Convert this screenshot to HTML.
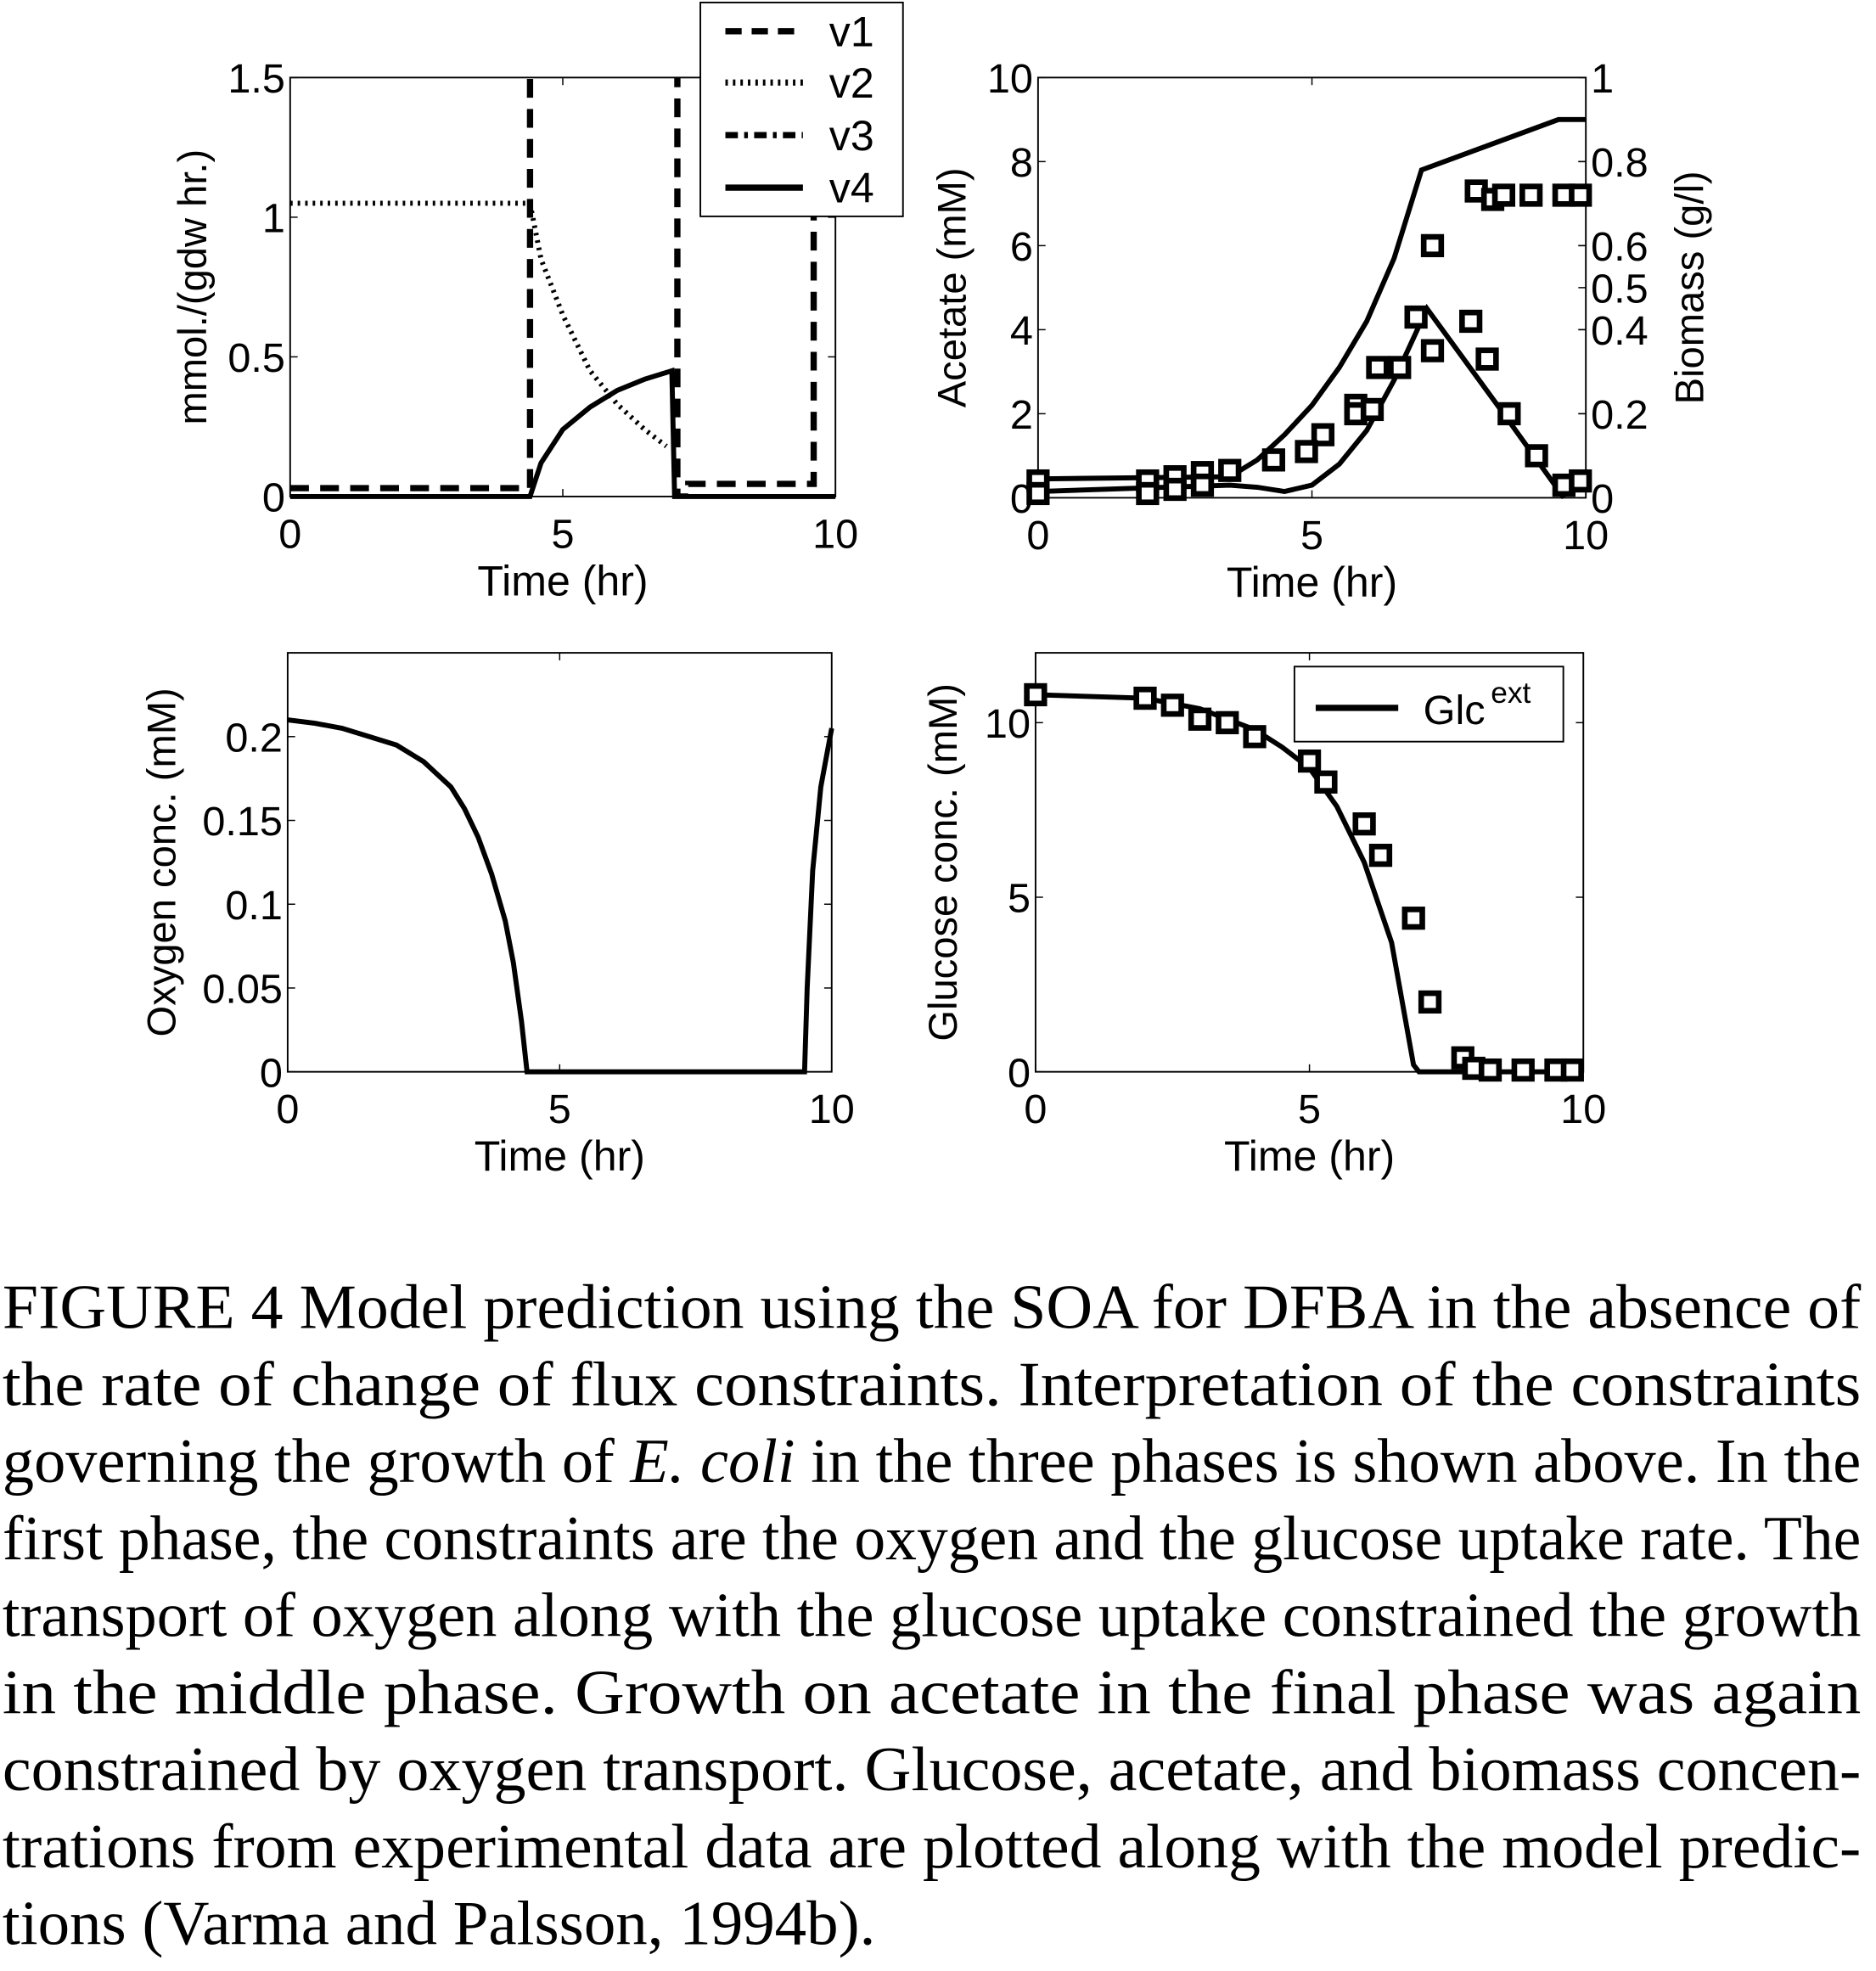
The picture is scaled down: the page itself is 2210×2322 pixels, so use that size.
<!DOCTYPE html>
<html><head><meta charset="utf-8"><style>
html,body{margin:0;padding:0;background:#fff;}
svg{display:block;}
text{font-family:"Liberation Sans",sans-serif;fill:#000;}
text.cap{font-family:"Liberation Serif",serif;font-size:50px;}
</style></head><body>
<svg id="fig" width="2210" height="2322" viewBox="0 0 1500 1576" xmlns="http://www.w3.org/2000/svg">
<defs><clipPath id="clip1"><rect x="232" y="62" width="436" height="335"/></clipPath></defs>
<g id="p1"></g>
<g id="p2"></g>
<g id="p3"></g>
<g id="p4"></g>
<g id="caption"></g>
</svg>
<script>
// ---- Panel 1 data: fluxes ----
const v1T=[0,4.4,4.4,7.1,7.1,7.3,7.3,9.6,9.6];
const v1V=[0.03,0.03,1.7,1.7,0,0,0.045,0.045,1.7];
const v2T=[0,4.4,4.45,4.6,5,5.5,6,6.5,6.9];
const v2V=[1.05,1.05,1.0,0.85,0.65,0.45,0.33,0.24,0.18];
const v4T=[0,4.4,4.6,5,5.5,6,6.5,7.0,7.05,10];
const v4V=[0,0,0.12,0.24,0.32,0.38,0.42,0.45,0,0];
const p1YTicks=[0,0.5,1,1.5];
const p1YLabels=["0","0.5","1","1.5"];
const xTicks=[0,5,10];
const xLabels=["0","5","10"];
// ---- Panel 2 data ----
const bioT=[0,3.5,4,4.5,5,5.5,6,6.5,7,9.5,10];
const bioV=[0.045,0.05,0.09,0.15,0.22,0.31,0.42,0.57,0.78,0.9,0.9];
const aceT=[0,3.5,4,4.5,5,5.5,6,6.5,7.1,8.5,9.6];
const aceV=[0.15,0.3,0.25,0.15,0.3,0.8,1.6,2.8,4.5,2,0];
const bioMT=[0,2,2.5,3,3.5,4.3,5.2,5.8,6.2,7.2,8,8.3,8.5,9,9.6,9.9];
const bioMV=[0.04,0.04,0.05,0.06,0.065,0.09,0.15,0.22,0.31,0.6,0.73,0.71,0.72,0.72,0.72,0.72];
const aceMT=[0,2,2.5,3,4.9,5.8,6.1,6.6,6.9,7.2,7.9,8.2,8.6,9.1,9.6,9.9];
const aceMV=[0.1,0.1,0.2,0.3,1.1,2,2.1,3.1,4.3,3.5,4.2,3.3,2,1,0.3,0.4];
const p2YTicks=[0,2,4,6,8,10];
const p2YLabels=["0","2","4","6","8","10"];
const p2RTicks=[0,0.2,0.4,0.5,0.6,0.8,1];
const p2RLabels=["0","0.2","0.4","0.5","0.6","0.8","1"];
// ---- Panel 3 data ----
const oxT=[0,0.5,1,1.5,2,2.5,3,3.25,3.5,3.75,4,4.15,4.3,4.4,9.5,9.55,9.65,9.8,10];
const oxV=[0.21,0.208,0.205,0.2,0.195,0.185,0.17,0.157,0.14,0.118,0.09,0.065,0.03,0,0,0.05,0.12,0.17,0.205];
const p3YTicks=[0,0.05,0.1,0.15,0.2];
const p3YLabels=["0","0.05","0.1","0.15","0.2"];
// ---- Panel 4 data ----
const glcT=[0,2,3,4,4.5,5,5.5,6,6.5,6.9,7,10];
const glcV=[10.8,10.7,10.4,9.8,9.3,8.7,7.6,6,3.7,0.2,0,0];
const glcMT=[0,2,2.5,3,3.5,4,5,5.3,6,6.3,6.9,7.2,7.8,8,8.3,8.9,9.5,9.8];
const glcMV=[10.8,10.7,10.5,10.1,10,9.6,8.9,8.3,7.1,6.2,4.4,2,0.4,0.1,0.05,0.05,0.05,0.05];
const p4YTicks=[0,5,10];
const p4YLabels=["0","5","10"];

const NS="http://www.w3.org/2000/svg";
function mk(parent,tag,attrs,txt){const e=document.createElementNS(NS,tag);for(const k in attrs)e.setAttribute(k,attrs[k]);if(txt!==undefined)e.textContent=txt;parent.appendChild(e);return e;}
function lin(d0,d1,r0,r1){return v=>r0+(v-d0)/(d1-d0)*(r1-r0);}
function pathD(T,V,sx,sy){return T.map((t,i)=>(i?'L':'M')+sx(t).toFixed(1)+','+sy(V[i]).toFixed(1)).join(' ');}

function axes(g,x0,x1,y0,y1,sx,sy,yT,yL,yLabel,yLabelX){
  const box=mk(g,'rect',{x:x0,y:y0,width:x1-x0,height:y1-y0,fill:'none',stroke:'#000','stroke-width':1.3});
  
  
  yT.forEach((v,i)=>{
    const y=sy(v);
    const tk=mk(g,'line',{x1:x0,x2:x0+6,y1:y,y2:y,stroke:'#000','stroke-width':1});
    
    
    mk(g,'line',{x1:x1,x2:x1-6,y1:y,y2:y,stroke:'#000','stroke-width':1});
    const t=mk(g,'text',{x:x0-4,y:y+12,'text-anchor':'end','font-size':33},yL[i]);
    
    
  });
  xTicks.forEach((v,i)=>{
    const x=sx(v);
    mk(g,'line',{x1:x,x2:x,y1:y1,y2:y1-6,stroke:'#000','stroke-width':1});
    mk(g,'line',{x1:x,x2:x,y1:y0,y2:y0+6,stroke:'#000','stroke-width':1});
    const t=mk(g,'text',{x:x,y:y1+41,'text-anchor':'middle','font-size':33},xLabels[i]);
    
    
  });
  const xt=mk(g,'text',{x:(x0+x1)/2,y:y1+79,'text-anchor':'middle','font-size':34},'Time (hr)');
  
  
  const yt=mk(g,'text',{x:0,y:0,'text-anchor':'middle','font-size':32,transform:`translate(${yLabelX},${(y0+y1)/2}) rotate(-90)`},yLabel);
  
  
}
function line(g,T,V,sx,sy,dash,w,name,clip){
  const p=mk(g,'path',{d:pathD(T,V,sx,sy),fill:'none',stroke:'#000','stroke-width':w,'stroke-dasharray':dash||'none'});
  if(clip)p.setAttribute('clip-path',clip);
  
  
}
function markers(g,T,V,sx,sy,name){
  T.forEach((t,i)=>{
    const x=sx(t),y=sy(V[i]);
    const r=mk(g,'rect',{x:x-7,y:y-7,width:14,height:14,fill:'#fff',stroke:'#000','stroke-width':4.5});
    
    
  });
}

// Panel 1
(function(){
  const g=document.getElementById('p1');
  const x0=232,x1=668,y0=62,y1=397;
  const sx=lin(0,10,x0,x1),sy=lin(0,1.5,y1,y0);
  axes(g,x0,x1,y0,y1,sx,sy,p1YTicks,p1YLabels,'mmol./(gdw hr.)',165);
  line(g,v2T,v2V,sx,sy,'2 4',4,'v2-line');
  line(g,v4T,v4V,sx,sy,null,4,'v4-line');
  line(g,v1T,v1V,sx,sy,'15 9',5,'v1-line','url(#clip1)');
  const lg=mk(g,'g',{});
  
  
  mk(lg,'rect',{x:560,y:2,width:162,height:171,fill:'#fff',stroke:'#000','stroke-width':1.3});
  const names=['v1','v2','v3','v4'],dashes=['13 8','2 4','10 5 3 5','none'],ys=[25,66,108,150];
  names.forEach((n,i)=>{
    const l=mk(lg,'line',{x1:580,x2:642,y1:ys[i],y2:ys[i],stroke:'#000','stroke-width':5,'stroke-dasharray':dashes[i]});
    
    
    const t=mk(lg,'text',{x:663,y:ys[i]+12,'font-size':34},n);
    
    
  });
})();
// Panel 2
(function(){
  const g=document.getElementById('p2');
  const x0=830,x1=1268,y0=62,y1=398;
  const sx=lin(0,10,x0,x1),sy=lin(0,10,y1,y0),sb=lin(0,1,y1,y0);
  axes(g,x0,x1,y0,y1,sx,sy,p2YTicks,p2YLabels,'Acetate (mM)',772);
  p2RTicks.forEach((v,i)=>{
    const y=sb(v);
    const t=mk(g,'text',{x:x1+4,y:y+12,'font-size':33},p2RLabels[i]);
    
    
    mk(g,'line',{x1:x1,x2:x1-6,y1:y,y2:y,stroke:'#000','stroke-width':1});
  });
  const rt=mk(g,'text',{x:0,y:0,'text-anchor':'middle','font-size':32,transform:`translate(1362,230) rotate(-90)`},'Biomass (g/l)');
  
  
  line(g,bioT,bioV,sx,sb,null,4,'biomass-line');
  line(g,aceT,aceV,sx,sy,null,4,'acetate-line');
  markers(g,bioMT,bioMV,sx,sb,'biomass-marker');
  markers(g,aceMT,aceMV,sx,sy,'acetate-marker');
})();
// Panel 3
(function(){
  const g=document.getElementById('p3');
  const x0=230,x1=665,y0=522,y1=857;
  const sx=lin(0,10,x0,x1),sy=lin(0,0.25,y1,y0);
  axes(g,x0,x1,y0,y1,sx,sy,p3YTicks,p3YLabels,'Oxygen conc. (mM)',140);
  line(g,oxT,oxV,sx,sy,null,4,'oxygen-line');
})();
// Panel 4
(function(){
  const g=document.getElementById('p4');
  const x0=828,x1=1266,y0=522,y1=857;
  const sx=lin(0,10,x0,x1),sy=lin(0,12,y1,y0);
  axes(g,x0,x1,y0,y1,sx,sy,p4YTicks,p4YLabels,'Glucose conc. (mM)',765);
  line(g,glcT,glcV,sx,sy,null,4,'glucose-line');
  markers(g,glcMT,glcMV,sx,sy,'glucose-marker');
  const lg=mk(g,'g',{});
  
  
  mk(lg,'rect',{x:1035,y:533,width:215,height:60,fill:'#fff',stroke:'#000','stroke-width':1.3});
  mk(lg,'line',{x1:1052,x2:1118,y1:566,y2:566,stroke:'#000','stroke-width':5});
  const t=mk(lg,'text',{x:1138,y:579,'font-size':33},'Glc');
  
  
  mk(lg,'text',{x:1192,y:562,'font-size':24},'ext');
})();
// Caption
(function(){
  const g=document.getElementById('caption');
  const lines=[
   ['FIGURE  4    Model prediction using the SOA for DFBA in the absence of',true],
   ['the rate of change of flux constraints. Interpretation of the constraints',true],
   [null,true],
   ['first phase, the constraints are the oxygen and the glucose uptake rate. The',true],
   ['transport of oxygen along with the glucose uptake constrained the growth',true],
   ['in the middle phase. Growth on acetate in the final phase was again',true],
   ['constrained by oxygen transport. Glucose, acetate, and biomass concen-',true],
   ['trations from experimental data are plotted along with the model predic-',true],
   ['tions (Varma and Palsson, 1994b).',false]];
  lines.forEach((l,i)=>{
    const y=1062+i*61.6;
    const t=mk(g,'text',{x:2,y:y,'class':'cap'});
    
    
    if(l[1]){t.setAttribute('textLength',1486);t.setAttribute('lengthAdjust','spacingAndGlyphs');}
    else {t.setAttribute('textLength',698);t.setAttribute('lengthAdjust','spacingAndGlyphs');}
    if(l[0]===null){
      t.appendChild(document.createTextNode('governing the growth of '));
      mk(t,'tspan',{'font-style':'italic'},'E. coli');
      t.appendChild(document.createTextNode(' in the three phases is shown above. In the'));
    } else t.textContent=l[0];
  });
})();
</script>
</body></html>
